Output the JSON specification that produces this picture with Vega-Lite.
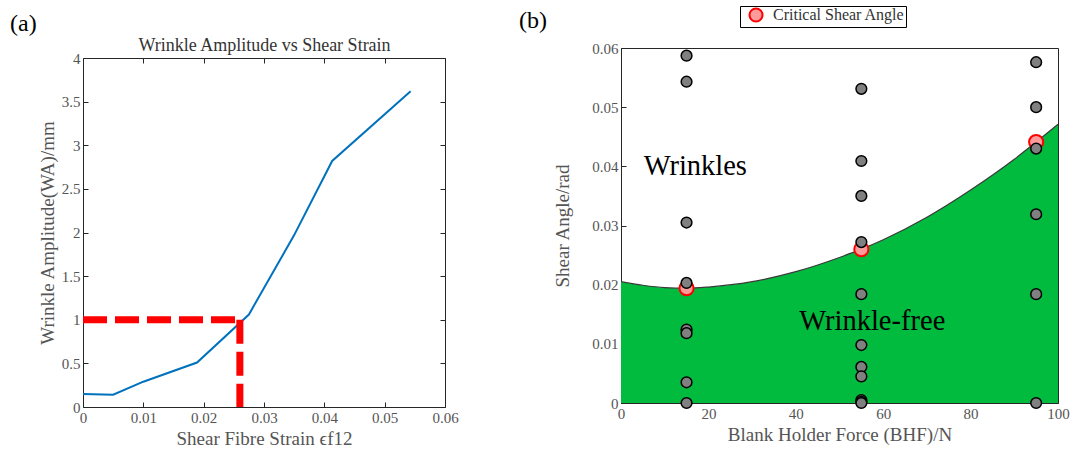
{
  "$schema": "https://vega.github.io/schema/vega-lite/v6.json",
  "background": "white",
  "padding": {"left": 10, "top": 5, "right": 5, "bottom": 5},
  "spacing": 59,
  "datasets": {
    "wa": [
      {"strain": 0, "amp": 0.15},
      {"strain": 0.005, "amp": 0.14},
      {"strain": 0.01, "amp": 0.29},
      {"strain": 0.0189, "amp": 0.51},
      {"strain": 0.0275, "amp": 1.06},
      {"strain": 0.035, "amp": 1.97},
      {"strain": 0.0413, "amp": 2.82},
      {"strain": 0.0543, "amp": 3.62}
    ],
    "dash": [
      {"x": 0, "x2": 0.026, "y": 1, "y2": 1},
      {"x": 0.026, "x2": 0.026, "y": 1, "y2": 0}
    ],
    "boundary": [
      {"bhf": 0, "angle": 0.0205},
      {"bhf": 5, "angle": 0.0199},
      {"bhf": 10, "angle": 0.0195},
      {"bhf": 15, "angle": 0.0194},
      {"bhf": 20, "angle": 0.0196},
      {"bhf": 30, "angle": 0.0205},
      {"bhf": 40, "angle": 0.0222},
      {"bhf": 50, "angle": 0.0246},
      {"bhf": 55, "angle": 0.0260},
      {"bhf": 60, "angle": 0.0276},
      {"bhf": 70, "angle": 0.0314},
      {"bhf": 80, "angle": 0.0360},
      {"bhf": 90, "angle": 0.0412},
      {"bhf": 95, "angle": 0.0441},
      {"bhf": 100, "angle": 0.0471}
    ],
    "critical": [
      {"bhf": 15, "angle": 0.0194, "series": "Critical Shear Angle"},
      {"bhf": 55, "angle": 0.0260, "series": "Critical Shear Angle"},
      {"bhf": 95, "angle": 0.0441, "series": "Critical Shear Angle"}
    ],
    "points": [
      {"bhf": 15, "angle": 0.0587},
      {"bhf": 15, "angle": 0.0543},
      {"bhf": 15, "angle": 0.0305},
      {"bhf": 15, "angle": 0.0203},
      {"bhf": 15, "angle": 0.0124},
      {"bhf": 15, "angle": 0.0118},
      {"bhf": 15, "angle": 0.0035},
      {"bhf": 15, "angle": 0},
      {"bhf": 55, "angle": 0.0531},
      {"bhf": 55, "angle": 0.0409},
      {"bhf": 55, "angle": 0.0350},
      {"bhf": 55, "angle": 0.0272},
      {"bhf": 55, "angle": 0.0184},
      {"bhf": 55, "angle": 0.0098},
      {"bhf": 55, "angle": 0.0061},
      {"bhf": 55, "angle": 0.0045},
      {"bhf": 55, "angle": 0.0005},
      {"bhf": 55, "angle": 0.0002},
      {"bhf": 55, "angle": 0},
      {"bhf": 95, "angle": 0.0576},
      {"bhf": 95, "angle": 0.0500},
      {"bhf": 95, "angle": 0.0430},
      {"bhf": 95, "angle": 0.0319},
      {"bhf": 95, "angle": 0.0184},
      {"bhf": 95, "angle": 0}
    ],
    "labels": [
      {"bhf": 17, "angle": 0.0400, "label": "Wrinkles"},
      {"bhf": 57.5, "angle": 0.0139, "label": "Wrinkle-free"}
    ]
  },
  "hconcat": [
    {
      "width": 362,
      "height": 359,
      "view": {"stroke": null},
      "title": {"text": "(a)", "anchor": "start", "frame": "group", "dx": -73, "fontSize": 24, "font": "Liberation Serif", "fontWeight": "normal", "color": "#000000", "offset": 1},
      "resolve": {"axis": {"x": "independent", "y": "independent"}},
      "layer": [
        {
          "data": {"name": "wa"},
          "mark": {"type": "line", "color": "#0072BD", "strokeWidth": 2},
          "encoding": {
            "x": {"field": "strain", "type": "quantitative", "scale": {"domain": [0, 0.06], "nice": false},
              "axis": {"values": [0, 0.01, 0.02, 0.03, 0.04, 0.05, 0.06], "format": "~r", "title": "Shear Fibre Strain ϵf12"}},
            "y": {"field": "amp", "type": "quantitative", "scale": {"domain": [0, 4], "nice": false, "range": [359, 10]},
              "axis": {"values": [0, 0.5, 1, 1.5, 2, 2.5, 3, 3.5, 4], "format": "~r", "title": "Wrinkle Amplitude(WA)/mm"}}
          }
        },
        {
          "data": {"name": "dash"},
          "mark": {"type": "rule", "color": "#ff0000", "strokeWidth": 7, "strokeDash": [24, 8]},
          "encoding": {
            "x": {"field": "x", "type": "quantitative",
              "axis": {"orient": "top", "offset": -10, "values": [0, 0.01, 0.02, 0.03, 0.04, 0.05, 0.06], "labels": false, "title": "Wrinkle Amplitude vs Shear Strain", "titleFontSize": 18, "titleColor": "#333333", "titlePadding": 3}},
            "x2": {"field": "x2"},
            "y": {"field": "y", "type": "quantitative",
              "axis": {"orient": "right", "values": [0, 0.5, 1, 1.5, 2, 2.5, 3, 3.5, 4], "labels": false, "title": null}},
            "y2": {"field": "y2"}
          }
        }
      ]
    },
    {
      "width": 437,
      "height": 355,
      "title": {"text": "(b)", "anchor": "start", "frame": "group", "dx": -102, "fontSize": 24, "font": "Liberation Serif", "fontWeight": "normal", "color": "#000000", "offset": 8},
      "layer": [
        {
          "data": {"name": "boundary"},
          "mark": {"type": "area", "color": "#00bb3e", "interpolate": "monotone"},
          "encoding": {
            "x": {"field": "bhf", "type": "quantitative", "scale": {"domain": [0, 100], "nice": false},
              "axis": {"values": [0, 20, 40, 60, 80, 100], "format": "~r", "title": "Blank Holder Force (BHF)/N"}},
            "y": {"field": "angle", "type": "quantitative", "scale": {"domain": [0, 0.06], "nice": false},
              "axis": {"values": [0, 0.01, 0.02, 0.03, 0.04, 0.05, 0.06], "format": "~r", "title": "Shear Angle/rad", "titlePadding": 19}}
          }
        },
        {
          "data": {"name": "boundary"},
          "mark": {"type": "line", "color": "#3a3a3a", "strokeWidth": 1.2, "interpolate": "monotone"},
          "encoding": {
            "x": {"field": "bhf", "type": "quantitative"},
            "y": {"field": "angle", "type": "quantitative"}
          }
        },
        {
          "data": {"name": "critical"},
          "mark": {"type": "point", "shape": "circle", "filled": true, "size": 200, "stroke": "#ff0000", "strokeWidth": 2, "opacity": 1},
          "encoding": {
            "x": {"field": "bhf", "type": "quantitative"},
            "y": {"field": "angle", "type": "quantitative"},
            "fill": {"field": "series", "type": "nominal", "scale": {"range": ["#ff9b9b"]},
              "legend": {"title": null, "orient": "none", "legendX": 657, "legendY": -42, "strokeColor": "#000000", "padding": 1, "symbolOffset": 7, "labelOffset": 9, "symbolStrokeColor": "#ff0000", "symbolStrokeWidth": 2, "symbolSize": 170, "labelFont": "Liberation Serif", "labelFontSize": 16, "labelColor": "#333333"}}
          }
        },
        {
          "data": {"name": "points"},
          "mark": {"type": "point", "shape": "circle", "filled": true, "size": 115, "fill": "#808080", "stroke": "#000000", "strokeWidth": 1.5, "opacity": 1},
          "encoding": {
            "x": {"field": "bhf", "type": "quantitative"},
            "y": {"field": "angle", "type": "quantitative"}
          }
        },
        {
          "data": {"name": "labels"},
          "mark": {"type": "text", "font": "Liberation Serif", "fontSize": 28.5, "color": "#000000"},
          "encoding": {
            "x": {"field": "bhf", "type": "quantitative"},
            "y": {"field": "angle", "type": "quantitative"},
            "text": {"field": "label"}
          }
        }
      ]
    }
  ],
  "config": {
    "view": {"stroke": "#262626", "strokeWidth": 1},
    "axis": {
      "grid": false,
      "domainColor": "#262626",
      "tickColor": "#262626",
      "tickSize": -5,
      "labelPadding": 8,
      "labelFlush": false,
      "labelOverlap": false,
      "labelFont": "Liberation Serif",
      "labelFontSize": 15,
      "labelColor": "#555555",
      "titleFont": "Liberation Serif",
      "titleFontSize": 19,
      "titleFontWeight": "normal",
      "titleColor": "#555555"
    }
  }
}
